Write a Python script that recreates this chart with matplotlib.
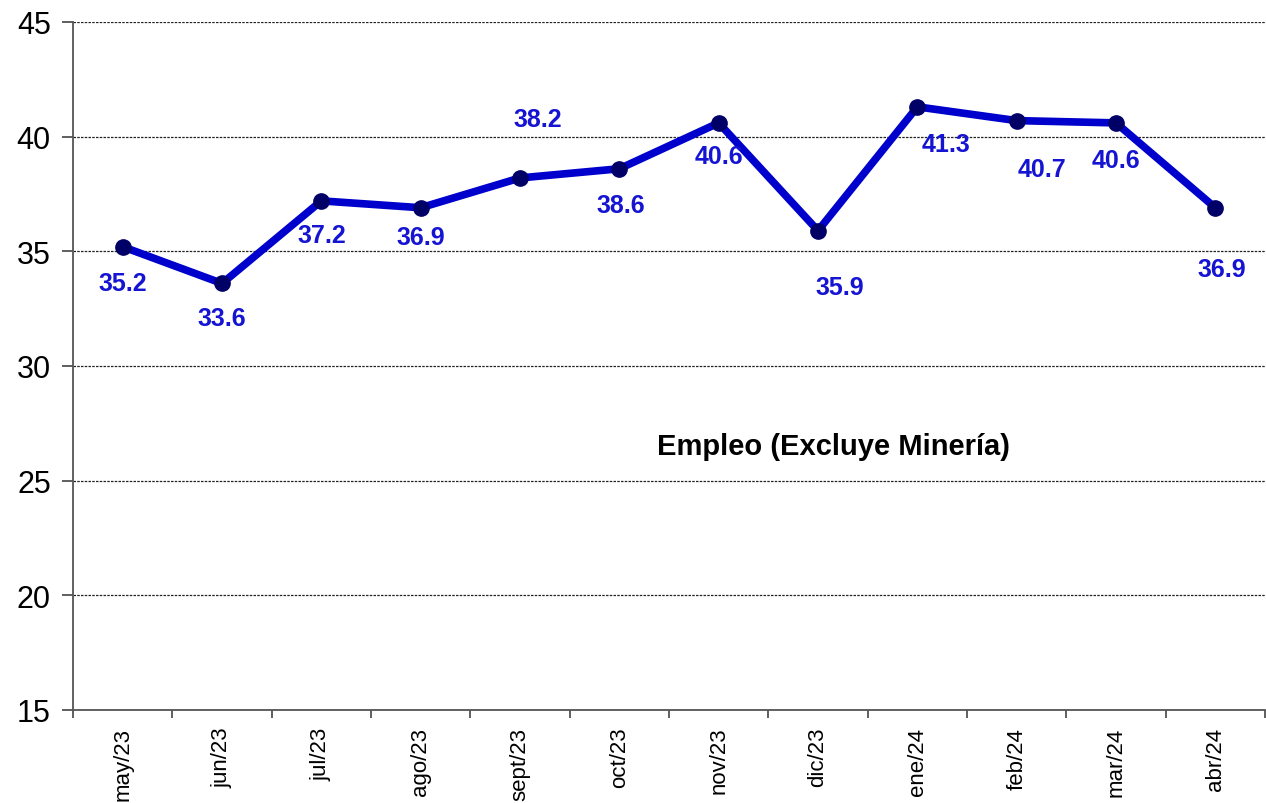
import numpy as np
import matplotlib.pyplot as plt

meses = ['may/23', 'jun/23', 'jul/23', 'ago/23', 'sept/23', 'oct/23',
         'nov/23', 'dic/23', 'ene/24', 'feb/24', 'mar/24', 'abr/24']
empleo = [35.2, 33.6, 37.2, 36.9, 38.2, 38.6, 40.6, 35.9, 41.3, 40.7, 40.6, 36.9]

# label offsets (pixels, x right / y up)
offsets = [(0, -36), (0, -35), (0, -34), (0, -29), (18, 59), (1, -36),
           (0, -33), (22, -56), (29, -37), (25, -48), (0, -37), (6, -61)]

if __name__ == "__main__":
    plt.rcParams['font.family'] = ['Liberation Sans', 'DejaVu Sans']
    fig = plt.figure(figsize=(12.66, 8.04), dpi=100)
    ax = fig.add_axes([0.0577, 0.1157, 0.9415, 0.8557])

    x = np.arange(len(meses))
    ax.plot(x, empleo, color='#0000CC', lw=5.5, marker='o', ms=11,
            mfc='#000066', mec='#000066', zorder=3)

    for i, v in enumerate(empleo):
        ax.annotate(f'{v:.1f}', (x[i], v), xytext=offsets[i],
                    textcoords='offset pixels', ha='center', va='center',
                    color='#1414D2', fontsize=18, fontweight='bold')

    ax.text(0.638, 0.384, 'Empleo (Excluye Minería)', transform=ax.transAxes,
            ha='center', va='center', fontsize=21, fontweight='bold')

    ax.set_xlim(-0.5, 11.5)
    ax.set_ylim(15, 45)
    ax.set_yticks(range(15, 46, 5))
    ax.set_xticks(x)
    ax.set_xticklabels(meses, rotation=90, fontsize=16)
    ax.set_xticks(np.arange(-0.5, 12, 1), minor=True)
    ax.tick_params(axis='x', which='major', length=0, pad=12)
    ax.tick_params(axis='x', which='minor', length=6, width=1.2, color='#444444')
    ax.tick_params(axis='y', length=8, width=1.2, color='#444444',
                   labelsize=22, pad=8)

    ax.yaxis.grid(True, linestyle=(0, (2, 1)), color='#222222', lw=0.9)
    ax.set_axisbelow(True)
    for s in ['top', 'right']:
        ax.spines[s].set_visible(False)
    for s in ['left', 'bottom']:
        ax.spines[s].set_color('#555555')
        ax.spines[s].set_linewidth(1.3)
    ax.spines['bottom'].set_zorder(4)

    plt.savefig('out.png', dpi=100)
